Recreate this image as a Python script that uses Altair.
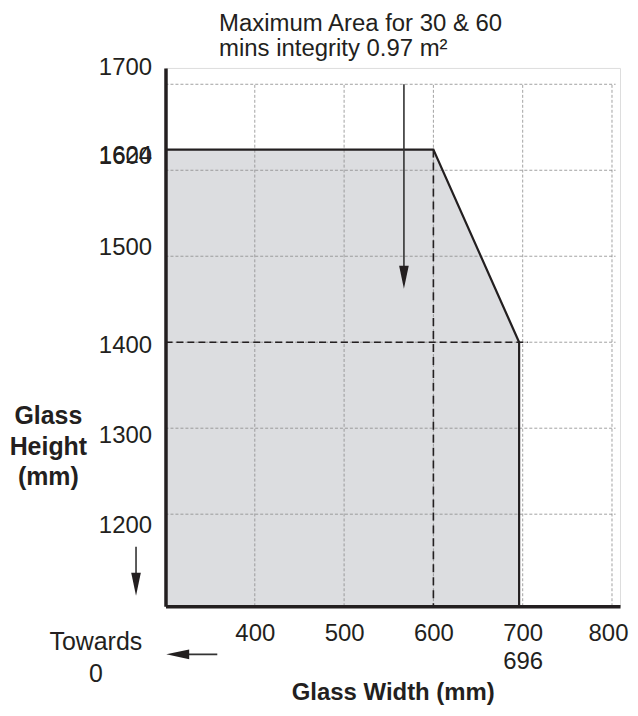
import altair as alt
import pandas as pd

# ---- data ----
grid_x = [400, 500, 600, 700, 800]
grid_y = [1200, 1300, 1400, 1500, 1600, 1700]
y_tick_values = [1200, 1300, 1400, 1500, 1600, 1624, 1700]
x_tick_values = [400, 500, 600, 700, 800]

poly_w = [300, 600, 696]
poly_h = [1624, 1624, 1400]
base_h = 1093
outline_w = [300, 600, 696, 696]
outline_h = [1624, 1624, 1400, 1093]

dash_h_line = {"x": 300, "x2": 706, "y": 1400}
dash_v_line = {"x": 600, "y": 1624, "y2": 1093}

main_arrow = {"x": 567, "y": 1700, "y2": 1478, "head_y": 1475.6}
down_arrow = {"x": 267, "y": 1162, "y2": 1120, "head_y": 1118.6}
left_arrow = {"y": 1037, "x": 358, "x2": 314, "head_x": 313.7}

note_text = ["Maximum Area for 30 & 60", "mins integrity 0.97 m\u00b2"]
note_pos = {"x": 360, "y": 1770.5}
towards_text = ["Towards", "0"]
towards_pos = {"x": 222, "y": 1051}

FONT = "Liberation Sans"
INK = "#231f20"

xs = alt.Scale(domain=[300, 809], nice=False, zero=False)
ys = alt.Scale(domain=[1093, 1719], nice=False, zero=False)

x_axis = alt.Axis(
    values=x_tick_values, grid=False, ticks=False, domain=True,
    domainColor=INK, domainWidth=3.5, zindex=1, format="d",
    labelFont=FONT, labelFontSize=24, labelColor=INK, labelPadding=15,
    labelFlush=False, labelOverlap=False,
    labelOffset={"condition": {"test": "datum.value == 800", "value": -4}, "value": 0},
    labelExpr="datum.value == 700 ? ['700', '696'] : datum.label",
    labelLineHeight=29,
    title="Glass Width (mm)", titleFont=FONT, titleFontSize=24,
    titleFontWeight="bold", titleColor=INK, titleBaseline="middle", titleY=87,
)
y_axis = alt.Axis(
    values=y_tick_values, grid=False, ticks=False, domain=True,
    domainColor=INK, domainWidth=3.5, zindex=1, format="d",
    labelFont=FONT, labelFontSize=24, labelColor=INK, labelPadding=14,
    labelFlush=False, labelOverlap=False, labelBaseline="middle",
    labelOffset={"condition": [
        {"test": "datum.value == 1700", "value": -17},
        {"test": "datum.value == 1624", "value": 6},
        {"test": "datum.value == 1600", "value": -14},
        {"test": "datum.value == 1500", "value": -9},
        {"test": "datum.value == 1400", "value": 3},
        {"test": "datum.value == 1300", "value": 7},
        {"test": "datum.value == 1200", "value": 11},
    ], "value": 0},
    title=["Glass", "Height", "(mm)"], titleFont=FONT, titleFontSize=25,
    titleFontWeight="bold", titleColor=INK, titleAngle=0, titleAlign="center",
    titleBaseline="middle", titleX=-118, titleY=349, titleLineHeight=30.5,
)

X = alt.X("x:Q", scale=xs, axis=x_axis)
Y = alt.Y("y:Q", scale=ys, axis=y_axis)

# fill
area_df = pd.DataFrame({"x": poly_w, "y": poly_h, "y2": [base_h] * len(poly_w)})
fill = alt.Chart(area_df).mark_area(color="#dcdde0", opacity=1).encode(
    x=X, y=Y, y2="y2:Q")

# grid
vgrid_df = pd.DataFrame({"x": grid_x, "y": [base_h] * len(grid_x), "y2": [1700] * len(grid_x)})
hgrid_df = pd.DataFrame({"y": grid_y, "x": [300] * len(grid_y), "x2": [804] * len(grid_y)})
grid_style = dict(color="#8a8a8a", strokeWidth=0.8, strokeDash=[3, 2])
vgrid = alt.Chart(vgrid_df).mark_rule(**grid_style).encode(x=X, y=Y, y2="y2:Q")
hgrid = alt.Chart(hgrid_df).mark_rule(**grid_style).encode(y=Y, x=X, x2="x2:Q")

# dashed reference lines
dh = alt.Chart(pd.DataFrame([dash_h_line])).mark_rule(
    color=INK, strokeWidth=1.6, strokeDash=[7, 4]).encode(x=X, x2="x2:Q", y=Y)
dv = alt.Chart(pd.DataFrame([dash_v_line])).mark_rule(
    color=INK, strokeWidth=1.6, strokeDash=[8, 5]).encode(x=X, y=Y, y2="y2:Q")

# outline
out_df = pd.DataFrame({"x": outline_w, "y": outline_h, "o": list(range(len(outline_w)))})
outline = alt.Chart(out_df).mark_line(color=INK, strokeWidth=2.2).encode(
    x=X, y=Y, order="o:O")

# arrows
head_down = "M-0.42,-1L0.42,-1L0,1Z"
head_left = "M1,-0.42L1,0.42L-1,0Z"
ma = alt.Chart(pd.DataFrame([main_arrow])).mark_rule(color="#333333", strokeWidth=1.6).encode(
    x=X, y=Y, y2="y2:Q")
ma_head = alt.Chart(pd.DataFrame([{"x": main_arrow["x"], "y": main_arrow["head_y"]}])).mark_point(
    shape=head_down, size=529, filled=True, color=INK, opacity=1).encode(x=X, y=Y)
da = alt.Chart(pd.DataFrame([down_arrow])).mark_rule(color="#333333", strokeWidth=1.6).encode(
    x=X, y=Y, y2="y2:Q")
da_head = alt.Chart(pd.DataFrame([{"x": down_arrow["x"], "y": down_arrow["head_y"]}])).mark_point(
    shape=head_down, size=529, filled=True, color=INK, opacity=1).encode(x=X, y=Y)
la = alt.Chart(pd.DataFrame([left_arrow])).mark_rule(color="#333333", strokeWidth=1.6).encode(
    y=Y, x=X, x2="x2:Q")
la_head = alt.Chart(pd.DataFrame([{"x": left_arrow["head_x"], "y": left_arrow["y"]}])).mark_point(
    shape=head_left, size=529, filled=True, color=INK, opacity=1).encode(x=X, y=Y)

# texts
note = alt.Chart(pd.DataFrame([{"x": note_pos["x"], "y": note_pos["y"], "t": note_text}])).mark_text(
    font=FONT, fontSize=24, color=INK, align="left", baseline="middle", lineHeight=25).encode(
    x=X, y=Y, text="t")
towards = alt.Chart(pd.DataFrame([{"x": towards_pos["x"], "y": towards_pos["y"], "t": towards_text}])).mark_text(
    font=FONT, fontSize=25, color=INK, align="center", baseline="middle", lineHeight=32).encode(
    x=X, y=Y, text="t")

chart = alt.layer(
    fill, vgrid, hgrid, dh, dv, outline, ma, ma_head, da, da_head, la, la_head, note, towards
).properties(
    width=456, height=540,
    padding={"left": 158, "top": 59, "right": 10, "bottom": 100},
    autosize=alt.AutoSizeParams(type="none"),
).configure_view(stroke=None).configure(background="white")

chart.save("out.html", embed_options={"renderer": "svg", "actions": False})
